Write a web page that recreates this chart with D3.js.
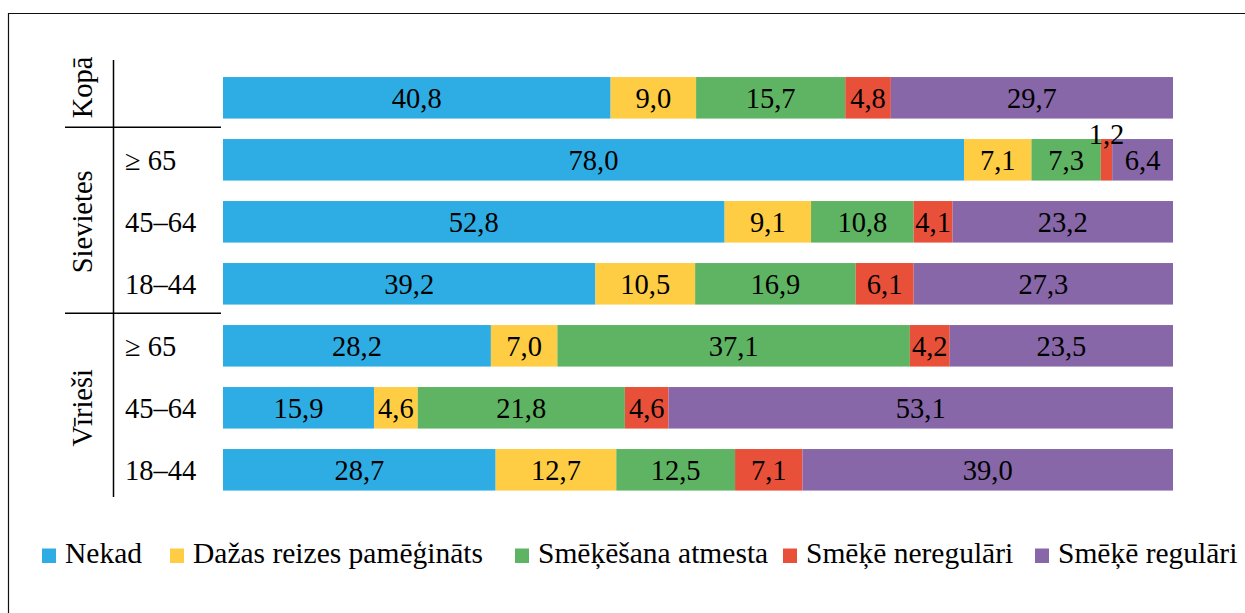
<!DOCTYPE html>
<html>
<head>
<meta charset="utf-8">
<script src="https://cdn.jsdelivr.net/npm/d3@7"></script>
<style>
  html, body { margin: 0; padding: 0; background: #fff; }
  svg { display: block; }
</style>
</head>
<body>
<svg id="chart" width="1245" height="613" font-family="'Liberation Serif', 'Times New Roman', Times, 'DejaVu Serif', serif"></svg>
<script>
// ---- Data ----
const rowKeys   = ["kopa", "f65", "f45", "f18", "m65", "m45", "m18"];
const rowLabels = ["", "\u2265 65", "45\u201364", "18\u201344", "\u2265 65", "45\u201364", "18\u201344"];
const groups    = [
  { name: "Kop\u0101",     rows: ["kopa"] },
  { name: "Sievietes",     rows: ["f65", "f45", "f18"] },
  { name: "V\u012brie\u0161i", rows: ["m65", "m45", "m18"] }
];
const seriesNames = ["Nekad", "Da\u017eas reizes pam\u0113\u0123in\u0101ts", "Sm\u0113\u0137\u0113\u0161ana atmesta", "Sm\u0113\u0137\u0113 neregul\u0101ri", "Sm\u0113\u0137\u0113 regul\u0101ri"];
const seriesColors = ["#2eade4", "#fecd44", "#5eb462", "#e9503a", "#8767a8"];
const nekad       = [40.8, 78.0, 52.8, 39.2, 28.2, 15.9, 28.7];
const dazas       = [ 9.0,  7.1,  9.1, 10.5,  7.0,  4.6, 12.7];
const atmesta     = [15.7,  7.3, 10.8, 16.9, 37.1, 21.8, 12.5];
const neregulari  = [ 4.8,  1.2,  4.1,  6.1,  4.2,  4.6,  7.1];
const regulari    = [29.7,  6.4, 23.2, 27.3, 23.5, 53.1, 39.0];
const seriesValues = [nekad, dazas, atmesta, neregulari, regulari];

// ---- Build table ----
const table = rowKeys.map((k, i) => {
  const o = { key: k, label: rowLabels[i] };
  seriesNames.forEach((s, j) => o[s] = seriesValues[j][i]);
  return o;
});
const stack = d3.stack().keys(seriesNames)(table);

const svg = d3.select("#chart");

// frame
svg.append("line").attr("x1", 8).attr("x2", 1245).attr("y1", 13.5).attr("y2", 13.5)
  .attr("stroke", "#111").attr("stroke-width", 1.2);
svg.append("line").attr("x1", 8.5).attr("x2", 8.5).attr("y1", 13).attr("y2", 613)
  .attr("stroke", "#111").attr("stroke-width", 1.2);

const x = d3.scaleLinear().domain([0, 100]).range([223, 1173]);
const y = d3.scaleBand().domain(rowKeys).range([66.8, 500.8]).paddingInner(0.33).paddingOuter(0.165);
const fmt = v => d3.format(".1f")(v).replace(".", ",");

// bars
const layers = svg.append("g").selectAll("g").data(stack).join("g")
  .attr("fill", (d, i) => seriesColors[i]);
layers.selectAll("rect").data(d => d).join("rect")
  .attr("x", d => x(d[0]))
  .attr("y", d => y(d.data.key))
  .attr("width", d => x(d[1]) - x(d[0]))
  .attr("height", y.bandwidth());

// value labels
const lab = svg.append("g").attr("font-size", 28.5).attr("text-anchor", "middle").attr("fill", "#000");
stack.forEach((layer, i) => {
  layer.forEach(d => {
    const v = d[1] - d[0];
    const small = v < 2;
    lab.append("text")
      .attr("x", (x(d[0]) + x(d[1])) / 2)
      .attr("y", small ? y(d.data.key) + 5 : y(d.data.key) + y.bandwidth() / 2 + 10.5)
      .text(fmt(seriesValues[i][rowKeys.indexOf(d.data.key)]));
  });
});

// left axis structure
const axisX = 113.5;
svg.append("line").attr("x1", axisX).attr("x2", axisX).attr("y1", 60).attr("y2", 497)
  .attr("stroke", "#000").attr("stroke-width", 1.5);
const sepY = k => y(k) - y.step() * y.paddingInner() / 2 - 1.5;
["f65", "m65"].forEach(k => {
  svg.append("line").attr("x1", 65).attr("x2", 221).attr("y1", sepY(k)).attr("y2", sepY(k))
    .attr("stroke", "#000").attr("stroke-width", 1.5);
});

// row labels
svg.append("g").attr("font-size", 28.5).attr("fill", "#000").selectAll("text").data(table).join("text")
  .attr("x", 125)
  .attr("y", d => y(d.key) + y.bandwidth() / 2 + 10)
  .text(d => d.label);

// group labels (rotated)
const groupCenters = { "Kop\u0101": 87.5, "Sievietes": 223.5, "V\u012brie\u0161i": 406 };
groups.forEach(g => {
  const first = y(g.rows[0]);
  const last = y(g.rows[g.rows.length - 1]) + y.bandwidth();
  let cy = (first + last) / 2;
  if (g.rows.length === 1) cy = groupCenters[g.name];
  svg.append("text")
    .attr("font-size", 28.5)
    .attr("fill", "#000")
    .attr("text-anchor", "middle")
    .attr("transform", `translate(92,${cy}) rotate(-90)`)
    .text(g.name);
});

// legend (item anchor positions follow the reference layout)
const legendX = [42, 170, 515, 783, 1035];
const leg = svg.append("g");
seriesNames.forEach((s, i) => {
  const lx = legendX[i];
  leg.append("rect").attr("x", lx).attr("y", 548.5).attr("width", 14).attr("height", 14.5)
    .attr("fill", seriesColors[i]);
  leg.append("text").attr("x", lx + 23).attr("y", 563).attr("font-size", 29.5)
    .attr("fill", "#000").text(s);
});
</script>
</body>
</html>
